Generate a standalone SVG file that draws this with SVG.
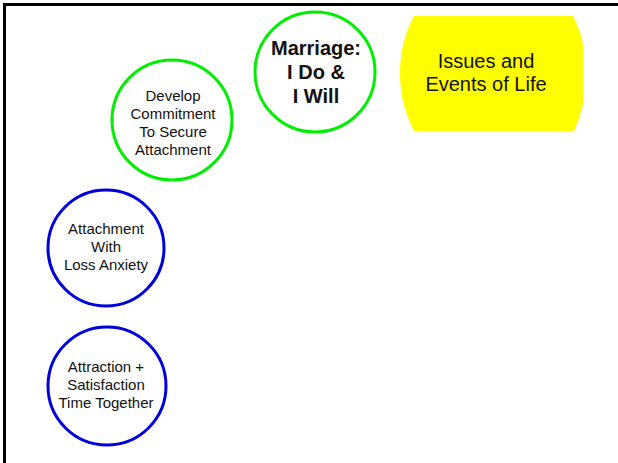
<svg xmlns="http://www.w3.org/2000/svg" width="618" height="463" viewBox="0 0 618 463">
<style>
.txt{font-family:"Liberation Sans",Arial,sans-serif;fill:#111;text-anchor:middle}
.g{fill:#fff;stroke:#00ee00;stroke-width:3}
.b{fill:#fff;stroke:#0000dd;stroke-width:3}
</style>
<rect width="618" height="463" fill="#fff"/>
<g id="frame"><path d="M4.5,463 L4.5,4.5 L618,4.5" fill="none" stroke="#000" stroke-width="3"/></g>
<g id="connectors"></g>
<g id="issues">
<path d="M414,16 L573,16 Q583,36 583,46 L583,104 Q580,118 574,131 L414,131 Q400,104 400,73 Q400,42 414,16 Z" fill="#ffff00"/>
<text class="txt" x="486" y="68" font-size="20">Issues and</text>
<text class="txt" x="486" y="91" font-size="20">Events of Life</text>
</g>
<g id="marriage">
<circle class="g" cx="315" cy="72" r="60"/>
<text class="txt" x="316" y="55" font-size="20" font-weight="bold">Marriage:</text>
<text class="txt" x="316" y="79" font-size="20" font-weight="bold">I Do &amp;</text>
<text class="txt" x="316" y="103" font-size="20" font-weight="bold">I Will</text>
</g>
<g id="develop">
<circle class="g" cx="172" cy="120" r="60"/>
<text class="txt" x="173" y="101" font-size="15">Develop</text>
<text class="txt" x="173" y="119" font-size="15">Commitment</text>
<text class="txt" x="173" y="137" font-size="15">To Secure</text>
<text class="txt" x="173" y="155" font-size="15">Attachment</text>
</g>
<g id="attachment">
<circle class="b" cx="106" cy="248" r="58"/>
<text class="txt" x="106" y="234" font-size="15">Attachment</text>
<text class="txt" x="106" y="252" font-size="15">With</text>
<text class="txt" x="106" y="270" font-size="15">Loss Anxiety</text>
</g>
<g id="attraction">
<circle class="b" cx="107" cy="386" r="59"/>
<text class="txt" x="106" y="372" font-size="15">Attraction +</text>
<text class="txt" x="106" y="390" font-size="15">Satisfaction</text>
<text class="txt" x="106" y="408" font-size="15">Time Together</text>
</g>
</svg>
